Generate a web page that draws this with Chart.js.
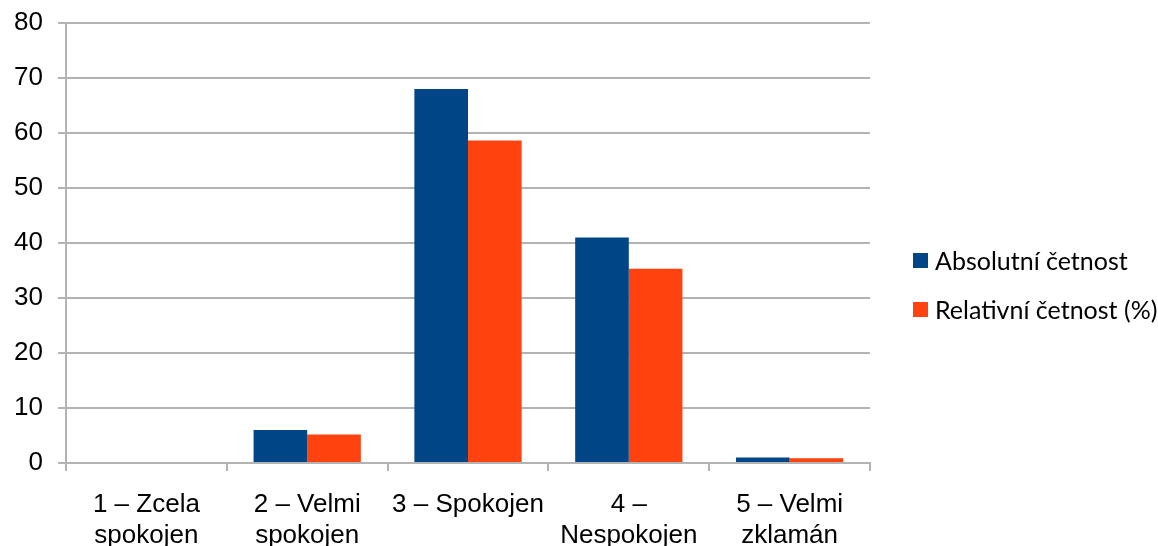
<!DOCTYPE html>
<html lang="cs">
<head>
<meta charset="utf-8">
<title>Spokojenost respondentů</title>
<script src="https://cdn.jsdelivr.net/npm/chart.js@4.4.1/dist/chart.umd.min.js"></script>
<style>
  html, body { margin: 0; padding: 0; background: #ffffff; overflow: hidden; }
  #wrap { position: relative; width: 1158px; height: 546px; }
  canvas { display: block; }
</style>
</head>
<body>
<div id="wrap"><canvas id="chart" width="1158" height="546"></canvas></div>
<script>
// Kategorie hodnocení (víceřádkové popisky osy X)
const categories = [
  ["1 – Zcela", "spokojen"],
  ["2 – Velmi", "spokojen"],
  "3 – Spokojen",
  ["4 –", "Nespokojen"],
  ["5 – Velmi", "zklamán"]
];

// Absolutní četnost odpovědí
const absolutniCetnost = [0, 6, 68, 41, 1];

// Relativní četnost odpovědí v procentech
const relativniCetnost = [0, 5.17, 58.62, 35.34, 0.86];

// Popisky hodnot osy Y
const yTickValues = [0, 10, 20, 30, 40, 50, 60, 70, 80];

const seriesNames = ["Absolutní četnost", "Relativní četnost (%)"];
const seriesColors = ["#004586", "#ff420e"];
const gridColor = "#b3b3b3";

// Legenda vpravo od grafu
const sideLegend = {
  id: "sideLegend",
  afterDraw(chart) {
    const ctx = chart.ctx;
    const x0 = 913, box = 15, rowTop = 253, rowGap = 49;
    ctx.save();
    ctx.font = "25px Lato, 'Open Sans', sans-serif";
    ctx.textBaseline = "middle";
    ctx.textAlign = "left";
    chart.data.datasets.forEach((ds, i) => {
      const y = rowTop + i * rowGap;
      ctx.fillStyle = ds.backgroundColor;
      ctx.fillRect(x0, y, box, box);
      ctx.fillStyle = "#000000";
      ctx.fillText(ds.label, x0 + 22, y + box / 2 + 1);
    });
    ctx.restore();
  }
};

new Chart(document.getElementById("chart"), {
  type: "bar",
  data: {
    labels: categories,
    datasets: [
      { label: seriesNames[0], data: absolutniCetnost, backgroundColor: seriesColors[0] },
      { label: seriesNames[1], data: relativniCetnost, backgroundColor: seriesColors[1] }
    ]
  },
  options: {
    responsive: false,
    devicePixelRatio: 1,
    animation: false,
    layout: { padding: { top: 23, right: 288, bottom: 0, left: 0 } },
    datasets: { bar: { categoryPercentage: 0.667, barPercentage: 1.0, borderWidth: 0 } },
    plugins: {
      legend: { display: false },
      tooltip: { enabled: false }
    },
    scales: {
      x: {
        offset: true,
        grid: {
          offset: true,
          drawOnChartArea: true,
          color: (c) => (c.index === 0 || c.index === categories.length) ? gridColor : "rgba(0,0,0,0)",
          tickColor: gridColor,
          tickLength: 8,
          lineWidth: 2
        },
        border: { display: true, color: gridColor, width: 2 },
        ticks: {
          color: "#000000",
          font: { family: "'Liberation Sans', Arial, sans-serif", size: 26, lineHeight: 1.2 },
          padding: 18,
          maxRotation: 0,
          autoSkip: false
        },
        afterFit(scale) {
          scale.height = 83;
          scale.paddingLeft = 0;
          scale.paddingRight = 0;
        }
      },
      y: {
        min: 0,
        max: 80,
        afterBuildTicks(scale) { scale.ticks = yTickValues.map(v => ({ value: v })); },
        grid: { color: gridColor, tickColor: gridColor, tickLength: 8, lineWidth: 2 },
        border: { display: true, color: gridColor, width: 2 },
        ticks: {
          color: "#000000",
          font: { family: "'Liberation Sans', Arial, sans-serif", size: 26 },
          padding: 15
        },
        afterFit(scale) {
          scale.width = 66;
          scale.paddingTop = 0;
          scale.paddingBottom = 0;
        }
      }
    }
  },
  plugins: [sideLegend]
});
</script>
</body>
</html>
